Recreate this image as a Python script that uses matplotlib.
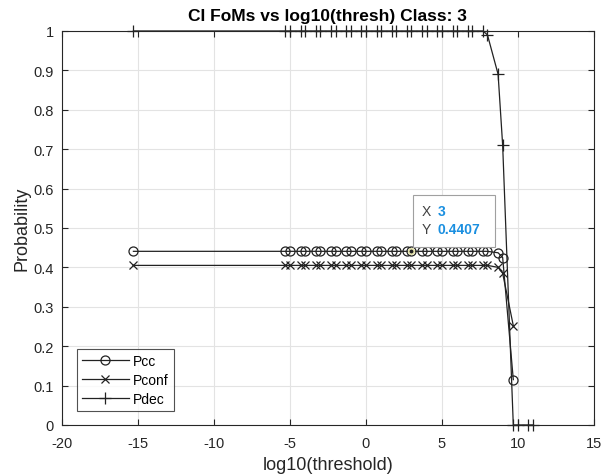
import matplotlib
matplotlib.use("Agg")
import matplotlib.pyplot as plt
import numpy as np

plt.rcParams['font.family'] = ['Liberation Sans', 'DejaVu Sans']
plt.rcParams['axes.unicode_minus'] = False

# log10 thresholds: one far point, then pairs (k-0.3, k)
ks = np.arange(-5, 12)
x_thresh = np.concatenate([[-15.3], np.ravel(np.column_stack([ks - 0.3, ks]))])

# values
pcc = [0.4407] * 29 + [0.437, 0.425, 0.115] + [np.nan] * 3
pconf = [0.405] * 29 + [0.400, 0.385, 0.252] + [np.nan] * 3
pdec = [1.0] * 28 + [0.99, 0.89, 0.71, 0.0, 0.0, 0.0, 0.0]

tip_x, tip_y = 3, 0.4407

fig = plt.figure(figsize=(6.03, 4.77), dpi=100)
ax = fig.add_axes([0.1028, 0.107, 0.882, 0.826])

ax.plot(x_thresh, pcc, '-o', color='#222222', lw=0.9, ms=6.5, mfc='none', mew=0.9,
        label='Pcc', clip_on=False)
ax.plot(x_thresh, pconf, '-x', color='#222222', lw=0.9, ms=6, mew=0.9,
        label='Pconf', clip_on=False)
ax.plot(x_thresh, pdec, '-+', color='#222222', lw=0.9, ms=9, mew=0.9,
        label='Pdec', clip_on=False)

# data tip
ax.plot([tip_x], [tip_y], 'o', ms=4, color='#222222', mec='#e8e6b0', mew=1.2, zorder=5)
box_x0, box_y0 = tip_x + 0.1, tip_y + 0.01
ax.add_patch(plt.Rectangle((box_x0, box_y0), 5.4, 0.132, facecolor='white',
                           edgecolor='#a0a0a0', lw=0.8, zorder=6))
ax.text(box_x0 + 0.6, box_y0 + 0.092, 'X', fontsize=10, color='#404040',
        va='center', zorder=7)
ax.text(box_x0 + 1.6, box_y0 + 0.092, '3', fontsize=10, color='#1a8fe0',
        fontweight='bold', va='center', zorder=7)
ax.text(box_x0 + 0.6, box_y0 + 0.046, 'Y', fontsize=10, color='#404040',
        va='center', zorder=7)
ax.text(box_x0 + 1.6, box_y0 + 0.046, '0.4407', fontsize=10, color='#1a8fe0',
        fontweight='bold', va='center', zorder=7)

ax.set_xlim(-20, 15)
ax.set_ylim(0, 1)
ax.set_xticks(np.arange(-20, 16, 5))
ax.set_yticks(np.round(np.arange(0, 1.01, 0.1), 1))
ax.set_yticklabels(['0', '0.1', '0.2', '0.3', '0.4', '0.5', '0.6', '0.7', '0.8', '0.9', '1'])
ax.grid(True, color='#e3e3e3', lw=0.8)
ax.set_axisbelow(True)
ax.tick_params(direction='in', top=True, right=True, length=4, width=0.8,
               labelsize=10.5, colors='#262626')
ax.tick_params(axis='x', pad=8)
ax.tick_params(axis='y', pad=6)
for s in ax.spines.values():
    s.set_color('#262626')
    s.set_linewidth(0.8)

ax.set_title('CI FoMs vs log10(thresh) Class: 3', fontsize=12.5, fontweight='bold', pad=8)
ax.set_xlabel('log10(threshold)', fontsize=13, color='#262626', labelpad=4)
ax.set_ylabel('Probability', fontsize=13, color='#262626', labelpad=2)

leg = ax.legend(loc='lower left', bbox_to_anchor=(0.028, 0.036), borderaxespad=0,
                fontsize=10, handlelength=3.4, fancybox=False, edgecolor='#262626',
                borderpad=0.35, labelspacing=0.35, handletextpad=0.3)
leg.get_frame().set_linewidth(0.8)

fig.savefig('out.png', dpi=100)
